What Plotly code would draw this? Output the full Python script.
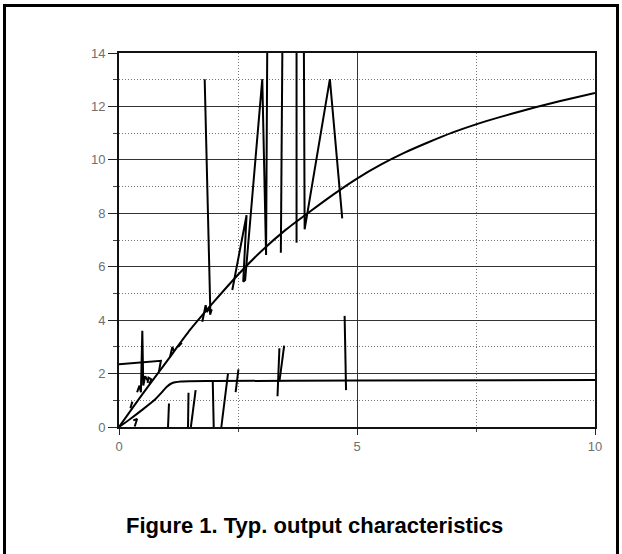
import plotly.graph_objects as go

# ---------------- data ----------------
upper_x = [0, 0.5, 1, 1.5, 2, 2.5, 3, 3.5, 4, 4.5, 5, 5.5, 6, 6.5, 7, 7.5, 8, 8.5, 9, 9.5, 10]
upper_y = [0, 1.25, 2.45, 3.65, 4.7, 5.7, 6.6, 7.38, 8.05, 8.7, 9.3, 9.82, 10.27, 10.66, 11.02, 11.33, 11.6, 11.85, 12.08, 12.3, 12.5]

lower_x = [0, 0.25, 0.5, 0.75, 0.9, 1.0, 1.1, 1.3, 2, 5, 10]
lower_y = [0, 0.32, 0.66, 1.02, 1.3, 1.5, 1.63, 1.7, 1.72, 1.74, 1.76]

# spurious strokes around the upper curve (None separates strokes)
hi_noise_x = [0.0, 0.88, 0.84, None,
              0.38, 0.43, 0.46, 0.49, 0.51, 0.55, 0.60, None,
              0.60, 0.62, 0.68, 0.64, None,
              0.24, 0.28, None,
              1.07, 1.12, 1.15, None,
              1.24, 1.32, None,
              1.75, 1.82, 1.85, 1.90, 1.92, None,
              1.80, 1.92, 1.95, None,
              2.38, 2.68, 2.61, 2.65, 3.01, 3.09, 3.12, None,
              3.44, 3.40, None,
              3.73, 3.73, None,
              3.88, 3.90, 4.43, 4.69]
hi_noise_y = [2.35, 2.48, 2.08, None,
              1.3, 1.55, 1.3, 3.6, 1.55, 1.9, 1.75, None,
              1.65, 1.85, 1.78, 1.62, None,
              0.7, 0.95, None,
              2.6, 3.0, 2.85, None,
              3.0, 3.15, None,
              3.94, 4.56, 4.3, 4.5, 4.2, None,
              13.02, 4.25, 4.4, None,
              5.13, 7.93, 5.44, 5.5, 13.02, 6.44, 16, None,
              16, 6.52, None,
              16, 6.9, None,
              16, 7.4, 13.02, 7.81]

# spurious strokes around the lower curve
lo_noise_x = [0.30, 0.38, 0.33, None,
              1.05, 1.03, None,
              1.46, 1.45, None,
              1.51, 1.61, None,
              1.97, 1.99, None,
              2.15, 2.29, None,
              2.45, 2.51, None,
              3.33, 3.37, None,
              3.37, 3.47, None,
              4.74, 4.77]
lo_noise_y = [0.25, 0.30, 0.02, None,
              0.88, 0.0, None,
              1.28, 0.0, None,
              0.0, 1.38, None,
              1.69, 0.0, None,
              0.0, 2.0, None,
              1.31, 2.16, None,
              1.15, 2.95, None,
              1.7, 3.05, None,
              4.16, 1.38]

x_tickvals = [0, 5, 10]
y_tickvals = [0, 2, 4, 6, 8, 10, 12, 14]
caption = "Figure 1. Typ. output characteristics"

# ---------------- figure ----------------
W, H = 622, 554
L, R, T, B = 119, 27, 53, 127
pw, ph = W - L - R, H - T - B

def px(xp):
    return (xp - L) / pw

def py(yp):
    return (H - B - yp) / ph

fig = go.Figure()
line = dict(color="black", width=2)
fig.add_trace(go.Scatter(x=upper_x, y=upper_y, mode="lines",
                         line=dict(color="black", width=2, shape="spline", smoothing=0.6),
                         hoverinfo="skip"))
fig.add_trace(go.Scatter(x=lower_x, y=lower_y, mode="lines",
                         line=dict(color="black", width=2, shape="spline", smoothing=0.6),
                         hoverinfo="skip"))
fig.add_trace(go.Scatter(x=hi_noise_x, y=hi_noise_y, mode="lines", line=line,
                         connectgaps=False, hoverinfo="skip"))
fig.add_trace(go.Scatter(x=lo_noise_x, y=lo_noise_y, mode="lines", line=line,
                         connectgaps=False, hoverinfo="skip"))

tickfont = dict(family="Liberation Sans, Arial, sans-serif", size=13, color="#707070")
dotted = "1px,2px"

fig.update_xaxes(range=[0, 10], tickvals=x_tickvals, ticks="outside", ticklen=6,
                 tickcolor="#222", tickwidth=1, tickfont=tickfont,
                 showgrid=True, gridcolor="#333", gridwidth=1,
                 showline=True, linecolor="#111", linewidth=2, mirror=True,
                 zeroline=False,
                 minor=dict(dtick=2.5, tick0=0, ticks="outside", ticklen=3, tickcolor="#444",
                            showgrid=True, gridcolor="#777", griddash=dotted, gridwidth=1))
fig.update_yaxes(range=[0, 14], tickvals=y_tickvals, ticks="outside", ticklen=9,
                 tickcolor="#222", tickwidth=1, tickfont=tickfont,
                 showgrid=True, gridcolor="#333", gridwidth=1,
                 showline=True, linecolor="#111", linewidth=2, mirror=True,
                 zeroline=False,
                 minor=dict(dtick=1, tick0=0, ticks="outside", ticklen=4, tickcolor="#444",
                            showgrid=True, gridcolor="#777", griddash=dotted, gridwidth=1))

# outer frame
fig.add_shape(type="rect", xref="paper", yref="paper",
              x0=px(4.5), x1=px(617.5), y0=py(600), y1=py(5.5),
              line=dict(color="black", width=3), fillcolor="rgba(0,0,0,0)", layer="above")

fig.add_annotation(text="<b>" + caption + "</b>", xref="paper", yref="paper",
                   x=px(314), y=py(525), xanchor="center", yanchor="middle",
                   showarrow=False,
                   font=dict(family="Liberation Sans, Arial, sans-serif", size=22, color="black"))

fig.update_layout(width=W, height=H, margin=dict(l=L, r=R, t=T, b=B),
                  paper_bgcolor="white", plot_bgcolor="white", showlegend=False)

fig.write_html("out.html", config={"displayModeBar": False},
               post_script="document.body.style.margin='0px';")
